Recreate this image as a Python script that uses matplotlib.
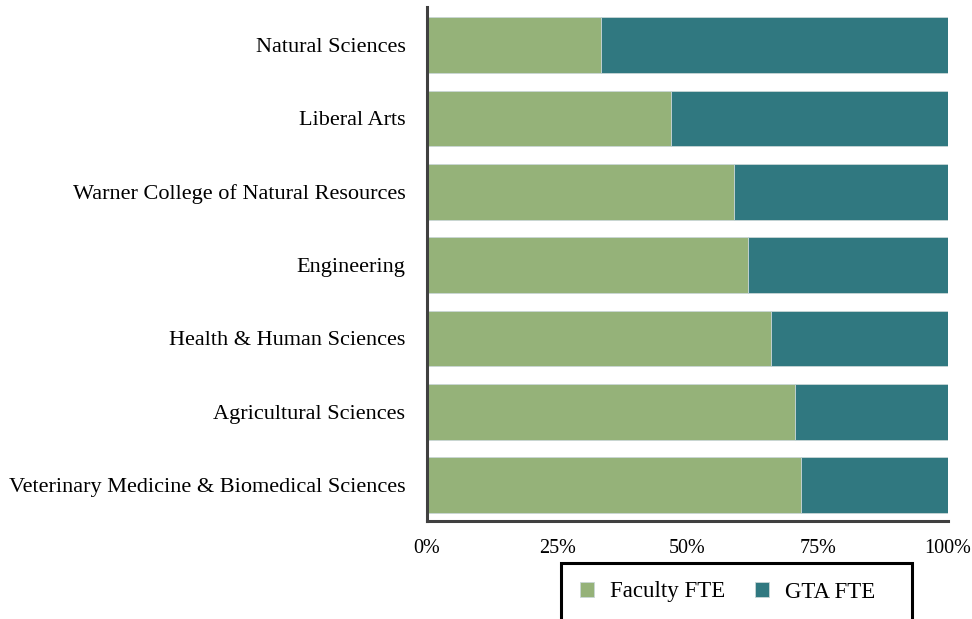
import matplotlib.pyplot as plt
from matplotlib.patches import Rectangle
import numpy as np

colleges = [
    "Natural Sciences",
    "Liberal Arts",
    "Warner College of Natural Resources",
    "Engineering",
    "Health & Human Sciences",
    "Agricultural Sciences",
    "Veterinary Medicine & Biomedical Sciences",
]
faculty_pct = [33.4, 46.8, 58.9, 61.6, 66.0, 70.6, 71.8]
gta_pct = [100 - v for v in faculty_pct]

green = "#95B279"
teal = "#307880"

plt.rcParams["font.family"] = ["Liberation Serif", "DejaVu Serif"]

fig = plt.figure(figsize=(9.72, 6.19), dpi=100)
ax = fig.add_axes([427 / 972, 1 - 521 / 619, 521 / 972, 514 / 619])

y = np.arange(len(colleges))
ax.barh(y, faculty_pct, height=0.76, color=green, edgecolor="#c9d6d6",
        linewidth=0.6, label="Faculty FTE")
ax.barh(y, gta_pct, left=faculty_pct, height=0.76, color=teal,
        edgecolor="#c9d6d6", linewidth=0.6, label="GTA FTE")

ax.set_xlim(0, 100)
ax.set_ylim(6.49, -0.52)
ax.set_yticks(y)
ax.set_yticklabels(colleges, fontsize=16)
ax.set_xticks([0, 25, 50, 75, 100])
ax.set_xticklabels(["0%", "25%", "50%", "75%", "100%"], fontsize=14.5)
ax.tick_params(axis="both", length=0)
ax.tick_params(axis="y", pad=15.5)
ax.tick_params(axis="x", pad=13)

for side in ["top", "right"]:
    ax.spines[side].set_visible(False)
for side in ["left", "bottom"]:
    ax.spines[side].set_linewidth(2.2)
    ax.spines[side].set_color("#404040")

# legend box runs off the bottom of the figure, like the original
box = Rectangle((561 / 972, -0.05), (912 - 561) / 972, 0.05 + (619 - 563) / 619,
                transform=fig.transFigure, fill=False, edgecolor="black",
                linewidth=2.2, clip_on=False)
fig.add_artist(box)

leg = ax.legend(loc="center left", bbox_to_anchor=(580 / 972, 1 - 592 / 619),
                bbox_transform=fig.transFigure, ncol=2, frameon=False,
                fontsize=16.5, handlelength=0.6, handleheight=0.6,
                columnspacing=1.3, handletextpad=0.7,
                borderpad=0, borderaxespad=0)

fig.savefig("out.png", dpi=100)
